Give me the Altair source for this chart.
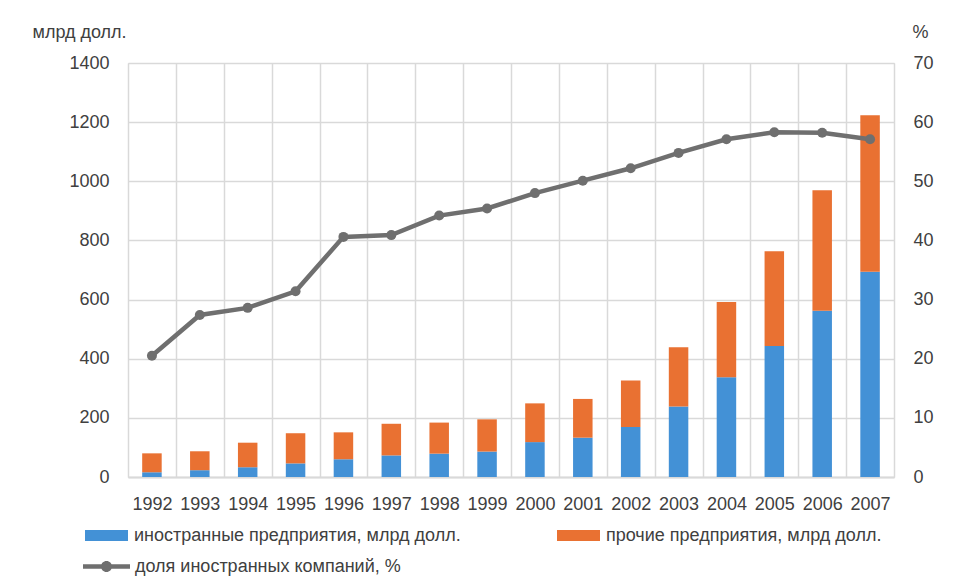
import altair as alt
import pandas as pd

years = [str(y) for y in range(1992, 2008)]
foreign = [16, 23, 33, 46, 60, 73, 79, 86, 118, 133, 169, 238, 337, 443, 562, 694]
other = [64, 64, 83, 102, 91, 107, 105, 109, 131, 131, 157, 201, 255, 320, 408, 529]
share = [20.5, 27.4, 28.6, 31.4, 40.6, 40.9, 44.2, 45.4, 48.0, 50.1, 52.2, 54.8, 57.1, 58.3, 58.2, 57.1]

left_ticks = [0, 200, 400, 600, 800, 1000, 1200, 1400]
right_ticks = [0, 10, 20, 30, 40, 50, 60, 70]

blue_name = "иностранные предприятия, млрд долл."
orange_name = "прочие предприятия, млрд долл."
line_name = "доля иностранных компаний, %"

BLUE = "#4391D6"
ORANGE = "#E97132"
GRAY = "#6F6F6F"
GRID = "#D9D9D9"
TXT = "#404040"
FONT = "Liberation Sans"
FS = 18

df = pd.DataFrame({"year": years, "foreign": foreign, "other": other, "share": share})

base = alt.Chart(df).transform_calculate(
    total="datum.foreign + datum.other",
    s1=f"'{blue_name}'",
    s2=f"'{orange_name}'",
    s3=f"'{line_name}'",
)

x_enc = alt.X(
    "year:O",
    scale=alt.Scale(paddingInner=0, paddingOuter=0),
    axis=alt.Axis(
        title=None, labelAngle=0, tickBand="extent", grid=True, gridColor=GRID,
        gridWidth=1.5, ticks=False, tickSize=0, domainColor=GRID, domainWidth=2,
        labelPadding=18, labelFontSize=FS, labelFont=FONT, labelColor=TXT,
    ),
)

left_axis = alt.Axis(
    values=left_ticks, format="d", grid=True, gridColor=GRID, gridWidth=1.5, domain=False,
    ticks=False, tickSize=0, labelPadding=19, labelFontSize=FS, labelFont=FONT,
    labelColor=TXT, title="млрд долл.", titleAngle=0, titleX=-96, titleY=-31,
    titleAlign="left", titleBaseline="middle", titleFont=FONT, titleFontSize=FS,
    titleFontWeight="normal", titleColor=TXT,
)

right_axis = alt.Axis(
    values=right_ticks, format="d", grid=False, domain=False, ticks=False, tickSize=0,
    labelPadding=19, labelFontSize=FS, labelFont=FONT, labelColor=TXT,
    orient="right", title="%", titleAngle=0, titleX=18, titleY=-31,
    titleAlign="left", titleBaseline="middle", titleFont=FONT, titleFontSize=FS,
    titleFontWeight="normal", titleColor=TXT,
)

rect_path = "M-1,-0.256H1V0.256H-1Z"
line_path = ("M-1,-0.096H1V0.096H-1Z "
             "M-0.234,0A0.234,0.234,0,1,1,0.234,0A0.234,0.234,0,1,1,-0.234,0Z")

def legend(x, y, path, size):
    return alt.Legend(
        title=None, orient="none", legendX=x, legendY=y, symbolType=path,
        symbolSize=size, symbolStrokeWidth=0, labelFont=FONT, labelFontSize=FS,
        labelColor=TXT, labelOffset=6, padding=0, labelLimit=500,
    )

blue = base.mark_bar(size=19.5, color=BLUE).encode(
    x=x_enc,
    y=alt.Y("foreign:Q", scale=alt.Scale(domain=[0, 1400]), axis=left_axis),
    color=alt.Color("s1:N", scale=alt.Scale(domain=[blue_name], range=[BLUE]),
                    legend=legend(-43, 451, rect_path, 1849)),
)

orange = base.mark_bar(size=19.5).encode(
    x=x_enc,
    y=alt.Y("foreign:Q", scale=alt.Scale(domain=[0, 1400]), axis=left_axis),
    y2="total:Q",
    fill=alt.Fill("s2:N", scale=alt.Scale(domain=[orange_name], range=[ORANGE]),
                  legend=legend(429, 451, rect_path, 1849)),
)

line = base.mark_line(strokeWidth=4.5).encode(
    x=x_enc,
    y=alt.Y("share:Q", scale=alt.Scale(domain=[0, 70]), axis=right_axis),
    stroke=alt.Stroke("s3:N", scale=alt.Scale(domain=[line_name], range=[GRAY]),
                      legend=alt.Legend(
                          title=None, orient="none", legendX=-45, legendY=480,
                          symbolType=line_path, symbolSize=2209, symbolStrokeWidth=0,
                          symbolFillColor=GRAY, labelFont=FONT, labelFontSize=FS,
                          labelColor=TXT, labelOffset=5, padding=0, labelLimit=500)),
)

points = base.mark_point(filled=True, size=100, color=GRAY, opacity=1).encode(
    x=x_enc,
    y=alt.Y("share:Q", scale=alt.Scale(domain=[0, 70]), axis=right_axis),
)

bars = alt.layer(blue, orange)
lines = alt.layer(line, points)

chart = alt.layer(bars, lines).resolve_scale(y="independent").properties(
    width=766,
    height=414,
    padding={"left": 120, "top": 55, "right": 70, "bottom": 101},
    autosize=alt.AutoSizeParams(type="none"),
).configure_view(stroke=GRID, strokeWidth=1.5).configure(background="white")

chart.save("out.html", embed_options={"renderer": "svg", "actions": False})
